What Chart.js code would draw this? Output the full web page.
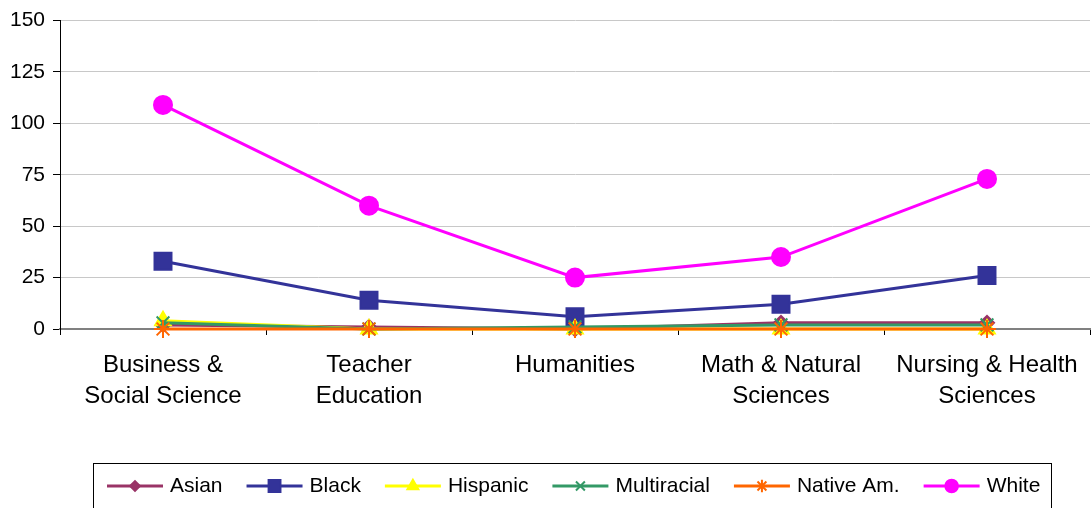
<!DOCTYPE html>
<html>
<head>
<meta charset="utf-8">
<script src="https://cdn.jsdelivr.net/npm/chart.js@4/dist/chart.umd.min.js"></script>
<style>
    html, body { margin: 0; padding: 0; background: #fff; overflow: hidden; }
    canvas { display: block; }
</style>
</head>
<body>
<canvas id="grafico_cursos" width="1091" height="508"></canvas>
<script>
var categorias = [['Business &', 'Social Science'], ['Teacher', 'Education'], 'Humanities', ['Math & Natural', 'Sciences'], ['Nursing & Health', 'Sciences']];
var asian = [2, 1, 0, 3, 3];
var black = [33, 14, 6, 12, 26];
var hispanic = [4, 0, 0, 0, 0];
var multiracial = [3, 0, 1, 2, 2];
var nativeAm = [0, 0, 0, 0, 0];
var white = [109, 60, 25, 35, 73];
var yTicks = [0, 25, 50, 75, 100, 125, 150];

var fonte = '"Liberation Sans", Arial, sans-serif';

function serie(label, valores, cor, estilo, raio, ordem) {
    return {
        label: label,
        data: valores,
        borderColor: cor,
        backgroundColor: cor,
        pointBackgroundColor: cor,
        pointBorderColor: cor,
        borderWidth: 3,
        pointStyle: estilo,
        pointRadius: raio,
        pointHoverRadius: raio,
        pointBorderWidth: 2,
        tension: 0,
        clip: false,
        order: ordem
    };
}

// legenda desenhada a mao, igual a do excel
var legendaPlugin = {
    id: 'legenda',
    afterDraw: function (chart) {
        var ctx = chart.ctx;
        ctx.save();
        ctx.strokeStyle = '#000';
        ctx.lineWidth = 1;
        ctx.strokeRect(93.5, 463.5, 958, 60);
        ctx.font = '21px ' + fonte;
        ctx.textBaseline = 'middle';
        ctx.textAlign = 'left';
        var x = 107;
        var y = 486;
        chart.data.datasets.forEach(function (ds) {
            ctx.strokeStyle = ds.borderColor;
            ctx.fillStyle = ds.borderColor;
            ctx.lineWidth = 3;
            ctx.beginPath();
            ctx.moveTo(x, y);
            ctx.lineTo(x + 56, y);
            ctx.stroke();
            if (Chart.helpers && Chart.helpers.drawPoint) {
                ctx.lineWidth = 2;
                Chart.helpers.drawPoint(ctx, {
                    pointStyle: ds.pointStyle,
                    radius: ds.pointRadius * 0.7,
                    rotation: 0,
                    borderWidth: 2
                }, x + 28, y);
            }
            ctx.fillStyle = '#000';
            ctx.fillText(ds.label, x + 63, y);
            x = x + 63 + ctx.measureText(ds.label).width + 24;
        });
        ctx.restore();
    }
};

var ctx = document.getElementById('grafico_cursos');
var myChart = new Chart(ctx, {
    type: 'line',
    data: {
        labels: categorias,
        datasets: [
            serie('Asian', asian, '#993366', 'rectRot', 7, 5),
            serie('Black', black, '#333399', 'rect', 12, 4),
            serie('Hispanic', hispanic, '#FFFF00', 'triangle', 9, 3),
            serie('Multiracial', multiracial, '#339966', 'crossRot', 9, 2),
            serie('Native Am.', nativeAm, '#FF6600', 'star', 9, 1),
            serie('White', white, '#FF00FF', 'circle', 9, 0)
        ]
    },
    options: {
        responsive: false,
        animation: false,
        layout: { autoPadding: false, padding: { top: 18, right: 1, bottom: 53, left: 0 } },
        plugins: {
            legend: { display: false },
            title: { display: false },
            tooltip: { enabled: false }
        },
        scales: {
            x: {
                offset: true,
                grid: { display: true, drawOnChartArea: false, drawTicks: true, tickLength: 6, color: '#000', offset: true },
                border: { color: '#808080', width: 2 },
                ticks: { color: '#000', font: { size: 24, family: fonte, lineHeight: 1.3 }, padding: 15, maxRotation: 0, autoSkip: false },
                afterFit: function (s) {
                    s.height = 126;
                    s.paddingLeft = 0;
                    s.paddingRight = 0;
                }
            },
            y: {
                min: 0,
                max: 150,
                afterBuildTicks: function (s) {
                    s.ticks = yTicks.map(function (v) { return { value: v }; });
                },
                ticks: { color: '#000', font: { size: 21, family: fonte }, padding: 8 },
                grid: { color: '#c8c8c8', tickColor: '#000', tickLength: 7 },
                border: { color: '#000', width: 1 },
                afterFit: function (s) { s.width = 60; }
            }
        }
    },
    plugins: [legendaPlugin]
});
</script>
</body>
</html>
